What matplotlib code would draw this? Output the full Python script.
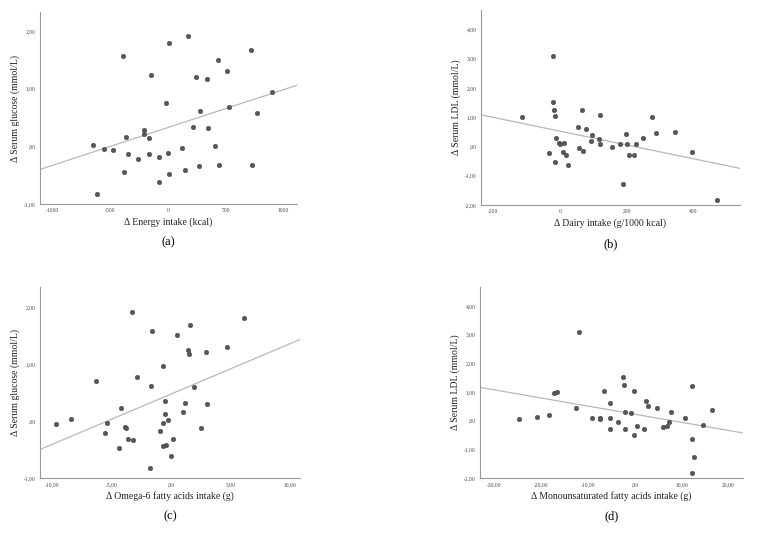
import matplotlib
matplotlib.use("Agg")
import matplotlib.pyplot as plt
import numpy as np

plt.rcParams['font.family'] = ['Liberation Serif', 'DejaVu Serif']

# (a) energy intake vs serum glucose
energy_x = [-650, -616, -555, -480, -390, -384, -361, -350, -257, -208, -211, -165, -165, -147,
            -75, -75, -17, 0, 12, 9, 121, 150, 171, 214, 240, 269, 275, 338, 350, 408, 436, 439,
            512, 532, 720, 728, 777, 902]
energy_y = [0.02, -0.82, -0.05, -0.06, 1.56, -0.44, 0.16, -0.13, -0.22, 0.29, 0.22, 0.14, -0.14, 1.24,
            -0.18, -0.61, 0.76, -0.11, 1.79, -0.48, -0.03, -0.41, 1.91, 0.34, 1.20, -0.34, 0.61, 1.17,
            0.32, 0.00, 1.50, -0.32, 1.30, 0.69, 1.67, -0.32, 0.58, 0.95]
energy_fit = [(-1110, -0.40), (1120, 1.06)]

# (b) dairy intake vs serum LDL
dairy_x = [-113, -33, -22, -22, -18, -16, -16, -11, -2, 1, 9, 12, 17, 24, 53, 57, 67, 68, 77, 96,
           92, 117, 120, 120, 156, 180, 188, 197, 202, 208, 222, 228, 248, 275, 289, 345, 396, 471]
dairy_y = [0.99, -0.24, 3.09, 1.52, 1.26, 1.05, -0.52, 0.30, 0.11, 0.10, -0.19, 0.11, -0.28, -0.64,
           0.68, -0.06, 1.23, -0.16, 0.60, 0.38, 0.20, 0.27, 1.06, 0.07, -0.03, 0.10, -1.27, 0.44,
           0.10, -0.28, -0.28, 0.07, 0.30, 0.99, 0.45, 0.50, -0.19, -1.84]
dairy_fit = [(-237, 1.08), (540, -0.75)]

# (c) omega-6 intake vs serum glucose
omega_x = [-9.66, -8.40, -6.27, -5.55, -5.35, -4.34, -4.23, -3.84, -3.78, -3.64, -3.31, -3.22, -2.86,
           -1.79, -1.71, -1.57, -0.90, -0.70, -0.64, -0.67, -0.53, -0.50, -0.45, -0.28, 0.00, 0.20,
           0.50, 0.98, 1.18, 1.40, 1.54, 1.62, 1.93, 2.49, 2.91, 3.03, 4.73, 6.11]
omega_y = [-0.05, 0.03, 0.70, -0.21, -0.04, -0.48, 0.23, -0.10, -0.13, -0.31, 1.92, -0.34, 0.77,
           -0.82, 0.61, 1.57, -0.17, -0.03, 0.96, -0.43, 0.35, 0.13, -0.42, 0.01, -0.61, -0.31,
           1.51, 0.16, 0.32, 1.25, 1.18, 1.68, 0.59, -0.12, 1.21, 0.30, 1.30, 1.80]
omega_fit = [(-11.0, -0.50), (10.84, 1.43)]

# (d) monounsaturated fat intake vs serum LDL
mufa_x = [-24.77, -20.85, -18.29, -17.30, -16.65, -12.53, -11.96, -9.18, -7.47, -7.40, -6.62, -5.41,
          -5.34, -5.34, -3.56, -2.56, -2.28, -2.14, -2.14, -0.85, -0.28, -0.21, 0.36, 1.92, 2.28,
          2.70, 4.70, 5.91, 6.76, 7.26, 7.62, 10.75, 12.17, 12.17, 12.60, 12.17, 14.52, 16.44]
mufa_y = [0.07, 0.13, 0.21, 0.98, 0.99, 0.45, 3.09, 0.10, 0.10, 0.07, 1.05, 0.10, 0.60, -0.29, -0.06,
          1.53, 1.26, 0.29, -0.28, 0.27, -0.51, 1.05, -0.18, -0.30, 0.68, 0.50, 0.45, -0.23, -0.20,
          -0.03, 0.29, 0.09, 1.21, -0.65, -1.27, -1.84, -0.15, 0.38]
mufa_fit = [(-33.1, 1.16), (23.1, -0.43)]

glucose_ticks = [-1, 0, 1, 2]
ldl_ticks = [-2, -1, 0, 1, 2, 3, 4]


def comma(v):
    # SPSS style: ",00" for zero, comma decimal separator
    s = "%.2f" % v
    s = s.replace(".", ",")
    if s.startswith("0,"):
        s = s[1:]
    if s.startswith("-0,"):
        s = "-" + s[2:]
    return s


def draw_panel(rect, xs, ys, fit, xlim, ylim, xticks, xticklabels, yticks, xlabel, ylabel, tag):
    W, H = 757.0, 544.0
    left, top, right, bottom = rect
    ax = fig.add_axes([left / W, 1 - bottom / H, (right - left) / W, (bottom - top) / H])
    ax.scatter(xs, ys, s=11, color="#575757", edgecolors="#404040", linewidths=0.3, zorder=3)
    ax.plot([fit[0][0], fit[1][0]], [fit[0][1], fit[1][1]], color="#b8b8b8", linewidth=0.9, zorder=2)
    ax.set_xlim(xlim)
    ax.set_ylim(ylim)
    ax.set_xticks(xticks)
    ax.set_xticklabels(xticklabels)
    ax.set_yticks(yticks)
    ax.set_yticklabels([comma(t) for t in yticks])
    ax.tick_params(length=0, labelsize=4, pad=3, colors="#444444")
    for side in ("top", "right"):
        ax.spines[side].set_visible(False)
    for side in ("left", "bottom"):
        ax.spines[side].set_color("#9a9a9a")
        ax.spines[side].set_linewidth(0.8)
    ax.set_xlabel(xlabel, fontsize=7, color="#222222", labelpad=3)
    ax.set_ylabel(ylabel, fontsize=7, color="#222222", labelpad=3)
    ax.text(0.5, -0.2, tag, transform=ax.transAxes, ha="center", va="center", fontsize=9)
    return ax


fig = plt.figure(figsize=(7.57, 5.44), dpi=100)

draw_panel((40, 12, 297, 204), energy_x, energy_y, energy_fit, (-1110, 1120), (-1.0, 2.33),
           [-1000, -500, 0, 500, 1000], ["-1000", "-500", "0", "500", "1000"], glucose_ticks,
           "\u0394 Energy intake (kcal)", "\u0394 Serum glucose (mmol/L)", "(a)")

draw_panel((481, 10, 740, 205), dairy_x, dairy_y, dairy_fit, (-237, 540), (-2.0, 4.66),
           [-200, 0, 200, 400], ["-200", "0", "200", "400"], ldl_ticks,
           "\u0394 Dairy intake (g/1000 kcal)", "\u0394 Serum LDL (mmol/L)", "(b)")

draw_panel((40, 287, 300, 478), omega_x, omega_y, omega_fit, (-11.0, 10.84), (-1.0, 2.35),
           [-10, -5, 0, 5, 10], [comma(v) for v in [-10, -5, 0, 5, 10]], glucose_ticks,
           "\u0394 Omega-6 fatty acids intake (g)", "\u0394 Serum glucose (mmol/L)", "(c)")

draw_panel((480, 287, 743, 478), mufa_x, mufa_y, mufa_fit, (-33.1, 23.1), (-2.0, 4.66),
           [-30, -20, -10, 0, 10, 20], [comma(v) for v in [-30, -20, -10, 0, 10, 20]], ldl_ticks,
           "\u0394 Monounsaturated fatty acids intake (g)", "\u0394 Serum LDL (mmol/L)", "(d)")

fig.savefig("out.png", dpi=100)
